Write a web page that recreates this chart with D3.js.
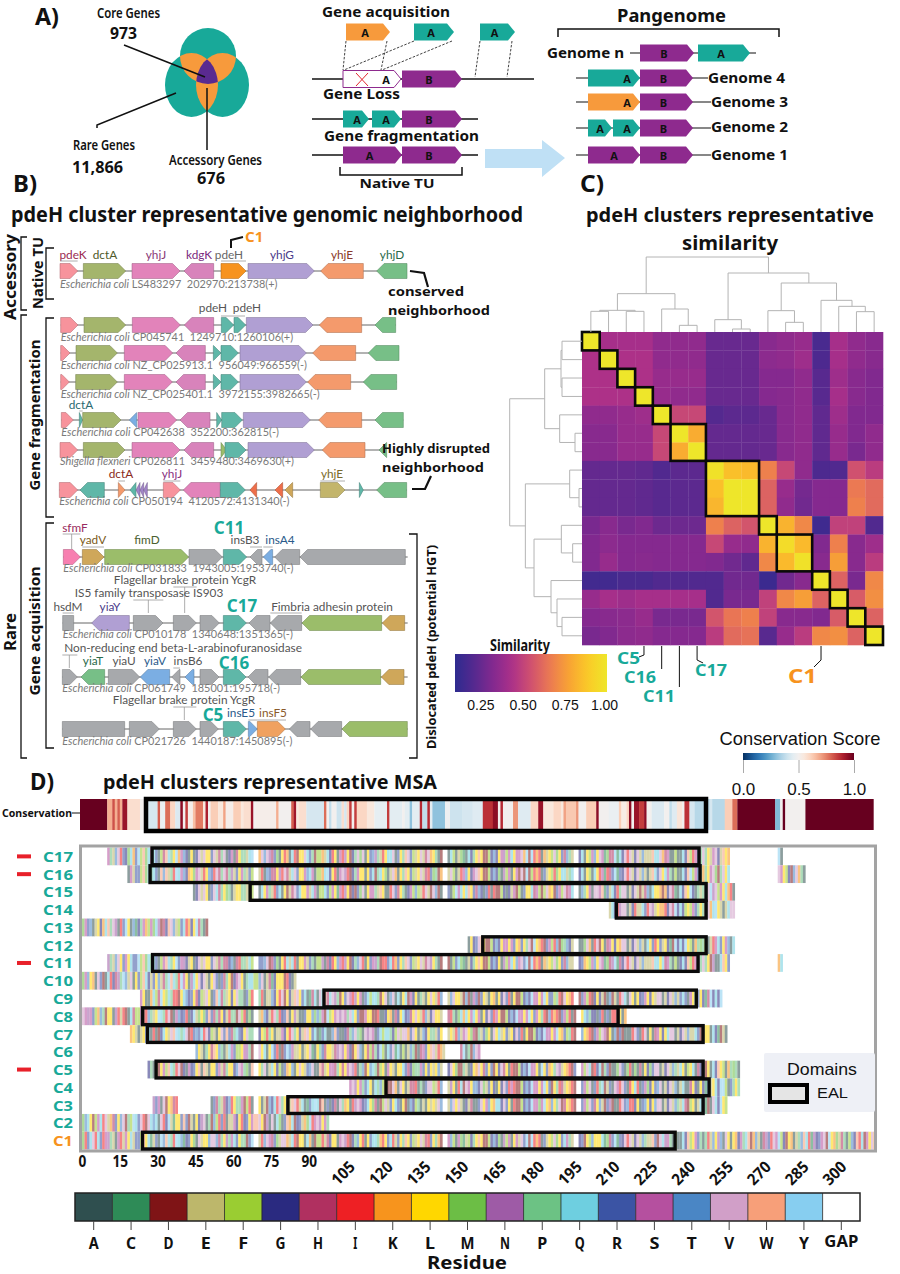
<!DOCTYPE html>
<html><head><meta charset="utf-8">
<script src="https://cdn.jsdelivr.net/npm/d3@7/dist/d3.min.js"></script>
<style>html,body{margin:0;padding:0;background:#fff}svg{display:block}</style>
</head><body><svg id="c" width="900" height="1274" xmlns="http://www.w3.org/2000/svg"></svg>
<script>
// ---------- Panel D data ----------
const msaClusters = ["C17","C16","C15","C14","C13","C12","C11","C10","C9","C8","C7","C6","C5","C4","C3","C2","C1"];
const msaMarked = ["C17","C16","C11","C5"];
const residues = ["A","C","D","E","F","G","H","I","K","L","M","N","P","Q","R","S","T","V","W","Y","GAP"];
const residueColors = ["#2f4f4f","#2e8b57","#7f1416","#bdb76b","#9acd32","#2a2a80","#b03060","#ee2024","#f7941d","#ffd700","#6cbe45","#9e5ba6","#6cc284","#6ecfe0","#3b54a4","#b5509f","#4a86c5","#d19fc8","#f79f79","#87cef0","#ffffff"];
const xTicks = [0,15,30,45,60,75,90,105,120,135,150,165,180,195,210,225,240,255,270,285,300];
const msaC17 = [[10,"SPETVIRGMQ KRYFWMQSQR AFHWQPLYKS TGALAGVEVL LRVEHPVAGS AHLPPEQY-- KVTVNHRMAL IKAQIDLLVQ RPDFFKEQGI LASINLDGPV MVALRTNPEI LQQVARLPWV RFELVEHVKL PAD--AQFAE MCAQGPLWLD DFGTGLSNFS QLSSVKYDYI KIAKELFVML RHTPE--GQA LFSTLVSCMH HYCQGVIVEG VETEEEWQQV KHSAAFAAQG WFISRPVPLE SVGEWLK"],[276,"YA"]];
const msaC16 = [[18,"AS ERRFWMQCQR AWTWEPIYQS TGKLMSVEIL TRIVHPVHPN ERLSPERF-- EIATRHHLNI VHEQVRLLST QSAFFKQYGL IASVNIDGPS LLALRQDPQL MAEVKALPWL RFELVEHIRM PDK--EVFAE ISTLGSVWLD DFGTGMANFS ALSDVDYDFI KIARELFIML QQEPQ--GQA LFAQLISCIH RYCRGVIVEG VETEAEWQRV LQSPAFAAQG WYFSRPKPLS VMDPVLQ"],[276,"VSLFGDTVKPA"]];
const msaC15 = [[44,"AGVEVL ARVQHPLMPA ELLPPEEF-- AQLSPEIRQA LDEHVRQLLS EQSAFFQRFS LCSINLDGDR MVALSSPEWL AAIVRHLPAG SFTFEIVEDV TDA--RAFYS QLQWLRHTGA RIAIDDFGAG ESDFARLLQH SFDFVKLDRS FVHSQ--ATP LSAVVSWCRE QGIPVVAEGV EDEHTAQLLK DKGVHCAQGW LYGAPEPAVY NVFSLQKIA"]];
const msaC14 = [[209,"E QGINVVAEGI EEQRIVNELK KIGVHYGQGF LFSRPLPDVK QYLEAEQVV"]];
const msaC13 = [[0,"MSRTAELGKQ WPVNAIRYLA TCGPSKFSMQ NDHGWVTEFR QIKGLYHPAD"]];
const msaC12 = [[153,"ALGRVWL DDFGTGLSSL SRLKRLPVDY LKIDRSFITD MPTGE--AAM VKAIVDLAHS LGLKVVAEGV ETEAQLRILR ELGCDYGQGY LFAKPMPLAE ISQRLSTAQ"]];
const msaC11 = [[10,"NPETVLRSLQ RRYFWMQPQR AFSWQPLYRS NGELAGVEVL LRVEHPHHGT AHIPPEQF-- RRTVDHRMAL IQEQIALLSE RPAFFNAHGI LTSINLDGPT VIALRSNPDI IRQIKRLPWV RFELVEHVNL PAD--DAFRQ MCAEGPLWLD DFGTGLANFS QLTSVRYDYI KIAKELFVML RHTEE--GRK LFSTLVSCMH NYCHGVIVEG VETEEEWQQL QHSPAFAGQG WFISRPVPLD NAAQWLR"],[276,"KQ"]];
const msaC10 = [[0,"MSTLKAVRDA QIGHNPYTEV ALRFWQGERL TEHPYWQPIY SLANQLVGVE ALVRARHPLD GSVLAPQQFF TVAEHCGLLL DIGAE"]];
const msaC9 = [[23,"SLAAKQF HYLFQPIIDL QTGRLHGFEV LARWQHPELG LVPPARFI-- PIAEETGLIV DLGEWVLRQA CHQAVQWHQV NPDLRVSINL SARQFQQPDL VATVAQALQD SGLAPEALVL EIT--ETVLL EDTDASRDRL EALKALGVRI ALDDFGTGYS SLSYLRRFPI DVLKI--DRS FIDGLGEDAT DEAIVQAVLA LGRSLGLEVV AEGVETERQR ASLQRLGCHY GQGY"]];
const msaC8 = [[0,"VSNSRFKTPD LLANIEIDAQ HFFSDITPEL YQPIVDASTG RIAGYEMLMR WRHPHLGEIP PDVFIAMA-- EKTGEIVPIG RWALNEAARL LTMTPSDYFL SVNVSPVQLR DDSLLDDIAA GLKAHGLQGR HLVLEITEGV LLE--HIPAM QKQLSQLSAL GVRISLDDFG TGYSSLSYLR SLPIDTIKID RSFIAD--LQ TPGGARIARA IIDLAK"]];
const msaC7 = [[19,"K LEAELRQAIA DGQLEVWYQP QVDIRTRQIV GFEALVRWRH PQRGLVPP-- GLFIPLAEES GLIVPLGEWV LRQACRQAAT WRAAGHPTVP MAVNVSARQF QQPGFVEVVK RVLAETGLPP ERL--ELEIT ESVLMHDPER MLAVLQELRE LGVRIALDDF GTGYSSLSYL KRFPID--TL KIDRSFVSDL ATDRDAAAIV RAIVALAHSL GLQVVAEGVE TEEQRDFLLA QGCDEA"]];
const msaC6 = [[45,"TLEAP LHWLTPAEQS RFFLSNPD-- VLQALYRIAD RYTSEELAEL VCALPRHLLE HNVNLSGDLV TALHFHPGYF AQRVCQAFAE TPDAHSRLWV EIKE"],[150,"HYAPDTVS"]];
const msaC5 = [[26,"GPAL DLSFWQPIVD GASGRLWAWE ALLRSEHPLL GTVSPMAW-- LPVAEQLGFA RKLTALVLER TVAAWHELSS HPLHLSVNIA PTDLTQPDFL ASLEALLQRH GMPPSRLRLE LTE--GVLMD DPEAGLKVLH RLRDLGVHLA IDDFGTGYSS LAYLRKLPVN ELKIDR--SF VQDIGQDPRD AAMVRAMIAM AHALGMRVVA EGVETPEQLA FLQAHGCDLA QGWLFAKPMP A"]];
const msaC4 = [[106,"SVNL SPRQLAQPTF LDDVKAVLAE HHIAPARVVF EIT--ENLAI QDVSLTTGVM ERLGALGVRI SIDDFGTGYS SLSYLRDLPI HELKID--RS FVARIPQDER AVSIVRAILQ IARSMGLRTV AEGVETAEQA AHLGALGCTE LQGYYFARPL P"]];
const msaC3 = [[28,"NRSAVDLKHI"],[51,"ARHPEHGTI LPPSDFIA-- LAEDTGQIVP LGEWVIEQAC RQYQDWARAG HAVPKLAINV SGRQLMHADF VERLQRALDA TGFPAEALEL EVT--ETVLV EAGEHAARVL STLKQQGVRL AIDDFGTGYS SMSYLKTLPV DHLKID--RS FVRHLTEDRN DAAIVRTIIG LARTLGLTVV AEGVETPEQH DFLAEQGCDA VQGYLF"]];
const msaC2 = [[0,"MTQLDFSQIV EKHRLTVDPF YQRVIDVQTQ AVIGYECLLR WRDEALGNVA PDTFIRIAEE SGLIGRLSWW VLDNAVAQMA RWKQDGREKM YISVNLSP"]];
const msaC1 = [[0,"MIRQVIQRIS NPEASIESLQ ERRFWLQCER AYTWQPIYQT CGRLMAVELL TVVTHPLNPS QRLPPDRY-- EITVSHRMEV VKEQIDLLAQ KADFFIEHGL LASVNIDGPT LIALRQQPKI LRQIERLPWL RFELVEHIRL PKD--STFAS MCEFGPLWLD DFGTGMANFS ALSEVRYDYI KIARELFVML RQSPE--GRD LFTLLLQCMH RYCRGVIVEG VETPEEWRDV QNSPAFAAQG WFLSRPAPIE TLNTAVLALK GSPQWDKTEA HNRIVSYFGD LKAEPTWQIC NGRSVDYLKM EHPAFTGWIQ DSLVK"]];
const msaRows = [msaC17,msaC16,msaC15,msaC14,msaC13,msaC12,msaC11,msaC10,msaC9,msaC8,msaC7,msaC6,msaC5,msaC4,msaC3,msaC2,msaC1];
const ealClusters = ["C17","C16","C15","C14","C12","C11","C9","C8","C7","C5","C4","C3","C1"];
const ealStart = [27.8,27,66.7,212,159,28,96,24,26,29.4,120.6,81.7,24];
const ealEnd = [244.8,245.2,247.6,247.6,247.6,244.4,243.7,212.7,246.4,246.4,248.8,246.4,235.3];
// conservation score: [score, number of consecutive residues]
const conservationRuns = [[1,10],[.68,2],[.82,1],[.68,1],[.8,1],[.68,1],[.93,2],[.58,5],[.5,2],[.42,5],[.8,1],[.47,2],[.78,2],[.6,2],[.43,2],[.95,1],[.5,1],[.85,1],[.52,2],[.65,1],[.76,3],[.55,1],[.9,1],[.5,1],[.62,3],[.55,2],[.7,1],[.52,3],[.62,3],[.55,1],[.58,3],[.93,1],[.5,1],[.52,8],[.68,1],[.5,5],[.8,1],[.92,1],[.55,1],[.58,3],[.42,7],[.78,1],[.5,1],[.38,1],[.5,2],[.4,2],[.58,1],[.42,1],[.6,1],[.85,1],[.5,1],[.85,1],[.6,4],[.55,3],[.46,5],[.85,1],[.45,5],[.5,1],[.45,2],[.3,1],[.45,3],[.88,1],[.38,2],[.88,1],[.45,1],[.3,5],[.48,2],[.4,5],[.42,4],[.44,4],[.87,4],[.95,2],[.5,1],[.88,1],[.5,4],[.72,2],[.44,5],[.6,3],[.93,2],[.55,4],[.6,3],[.55,1],[.7,1],[.63,4],[.72,1],[.5,3],[.62,4],[.95,1],[.5,4],[.47,4],[.62,1],[.53,2],[.6,1],[.95,1],[.5,1],[.93,2],[.85,2],[.95,1],[.5,2],[.43,5],[.5,2],[.38,1],[.44,2],[.56,2],[.5,1],[.87,2],[.42,2],[.36,6],[.42,1],[.36,5],[.62,3],[.78,2],[1,15],[.28,2],[.5,1],[1,1],[.5,8],[1,27]];
// ---------- Panel C data ----------
const simRamp = ["#2d2b8f","#55298f","#83298f","#ac3089","#d0516f","#ec7a52","#f8a334","#fbca27","#eee62a"];
const heatRows = [
[1,.42,.42,.42,.36,.36,.36,.26,.26,.26,.34,.36,.38,.18,.42,.36,.34],
[.44,1,.44,.44,.36,.36,.36,.26,.26,.26,.35,.36,.4,.19,.42,.36,.34],
[.44,.44,1,.44,.38,.38,.38,.26,.26,.26,.33,.33,.36,.22,.40,.34,.32],
[.44,.44,.44,1,.38,.36,.36,.26,.26,.26,.33,.34,.36,.22,.42,.34,.32],
[.36,.36,.38,.40,1,.52,.52,.21,.23,.23,.26,.34,.36,.24,.40,.32,.32],
[.34,.34,.38,.38,.52,1,.8,.25,.25,.25,.26,.34,.36,.24,.38,.32,.36],
[.34,.34,.38,.38,.52,.8,1,.25,.25,.25,.26,.34,.36,.24,.38,.3,.36],
[.25,.25,.25,.24,.2,.23,.23,.98,.86,.84,.68,.52,.36,.19,.2,.55,.48],
[.25,.25,.25,.24,.22,.23,.23,.86,1,1,.6,.38,.29,.33,.33,.66,.62],
[.25,.25,.25,.24,.22,.23,.23,.83,1,1,.6,.36,.28,.33,.33,.68,.62],
[.3,.34,.3,.32,.27,.27,.27,.68,.6,.56,1,.82,.7,.15,.5,.5,.2],
[.32,.35,.33,.33,.33,.33,.33,.52,.38,.36,.82,.96,.84,.32,.68,.34,.4],
[.32,.38,.33,.34,.33,.33,.33,.32,.28,.24,.7,.84,.98,.34,.76,.34,.48],
[.16,.16,.18,.18,.2,.2,.2,.2,.28,.28,.14,.28,.34,1,.6,.3,.7],
[.38,.42,.4,.42,.42,.42,.42,.2,.3,.3,.5,.7,.76,.6,1,.58,.72],
[.33,.34,.35,.38,.3,.3,.3,.56,.65,.68,.5,.34,.34,.32,.58,1,.6],
[.3,.32,.35,.36,.33,.33,.33,.48,.62,.64,.22,.38,.48,.7,.72,.6,1]];
// similarity blocks on the diagonal: [first, last] (0-based leaf order)
const heatBlocks = [[0,0],[1,1],[2,2],[3,3],[4,4],[5,6],[7,9],[10,10],[11,12],[13,13],[14,14],[15,15],[16,16]];
// dendrogram merges: [childA, childB, top distance, left distance]; a child >=0 is a leaf, <0 is merge -(i+1)
const dendroMerges = [[0,1,62,60],[2,3,62,60],[-1,-2,65,63],[5,6,20,21],[4,-4,69,67],[-3,-5,115,112],[8,9,9,9],[7,-7,37,37],[11,12,29,28],[10,-9,64,62],[15,16,61,60],[14,-11,77,75],[13,-12,95,93],[-10,-13,147,144],[-8,-14,177,170],[-6,-15,225,217]];
const simTicks = [.25,.5,.75,1];
const consTicks = [0,.5,1];
// ---------- Panel B data (gene positions on a position axis, strand, colour class) ----------
const geneColors = {pk:"#f7939c",ol:"#a4b56c",pi:"#e283ba",pj:"#d883bb",or:"#f7931e",la:"#b09fd3",sa:"#f49a6c",gn:"#77bf87",te:"#5fb7a8",bl:"#7baee3",li:"#9bbd6a",gy:"#a7a9ac",ta:"#cfa75a",hp:"#f77fb0",kh:"#c3b56b",rd:"#ee6e4a",pu:"#a184c8",io:"#f0a15f"};
const geneR1 = [[180,233,1,"pk"],[250,377,1,"ol"],[396,540,1,"pi"],[552,641,-1,"pj"],[663,738,1,"or"],[744,943,1,"la"],[962,1090,-1,"sa"],[1130,1221,-1,"gn"]];
const geneR2 = [[182,234,1,"pk"],[252,377,1,"ol"],[397,541,1,"pi"],[553,641,-1,"pj"],[664,701,1,"te"],[702,737,1,"te"],[739,939,1,"la"],[958,1085,-1,"sa"],[1125,1187,-1,"gn"]];
const geneR3 = [[182,210,1,"pk"],[228,352,1,"ol"],[373,518,1,"pi"],[528,616,-1,"pj"],[640,663,1,"te"],[663,715,1,"te"],[720,919,1,"la"],[938,1067,-1,"sa"],[1105,1197,-1,"gn"]];
const geneR4 = [[182,208,1,"pk"],[227,352,1,"ol"],[373,517,1,"pi"],[528,616,-1,"pj"],[640,663,1,"te"],[663,715,1,"te"],[720,919,1,"la"],[923,1052,-1,"sa"],[1090,1190,-1,"gn"]];
const geneR5 = [[184,220,1,"pk"],[238,248,1,"te"],[248,363,1,"ol"],[388,410,-1,"bl"],[414,530,1,"pi"],[540,630,-1,"pj"],[650,665,1,"te"],[665,727,1,"te"],[730,931,1,"la"],[956,1085,-1,"sa"],[1125,1210,-1,"gn"]];
const geneR6 = [[180,233,1,"pk"],[250,375,1,"ol"],[396,540,1,"pi"],[552,641,-1,"pj"],[663,680,1,"li"],[675,738,1,"te"],[744,943,1,"la"],[967,1095,-1,"sa"],[1137,1160,-1,"gn"]];
const geneR7 = [[178,233,1,"pk"],[240,313,-1,"te"],[355,375,1,"sa"],[390,408,-1,"te"],[408,420,-1,"pu"],[420,431,-1,"pu"],[431,442,-1,"pu"],[490,541,1,"pk"],[550,661,-1,"pi"],[661,736,1,"te"],[750,770,-1,"rd"],[825,848,-1,"rd"],[855,878,-1,"ta"],[961,1035,1,"kh"],[1078,1090,1,"te"],[1130,1220,-1,"gn"]];
const geneR8 = [[190,241,1,"hp"],[247,312,1,"ta"],[314,566,1,"li"],[567,667,1,"gy"],[670,740,1,"te"],[750,786,-1,"gy"],[790,818,-1,"bl"],[824,899,-1,"gy"],[900,1216,-1,"gy"]];
const geneR9 = [[188,221,0,"gy"],[275,388,-1,"la"],[400,489,1,"gy"],[520,589,1,"gy"],[600,658,1,"gy"],[670,739,1,"te"],[747,810,-1,"gy"],[811,905,-1,"gy"],[906,1145,-1,"li"],[1147,1214,-1,"ta"]];
const geneR10 = [[187,232,1,"gy"],[243,314,-1,"gn"],[325,419,1,"gy"],[421,509,-1,"bl"],[515,540,-1,"gy"],[555,582,-1,"bl"],[600,657,1,"gy"],[670,738,1,"te"],[744,804,-1,"gy"],[806,902,-1,"gy"],[903,1142,-1,"li"],[1144,1212,-1,"ta"]];
const geneR11 = [[187,374,0,"gy"],[388,478,1,"gy"],[520,589,1,"gy"],[600,655,1,"gy"],[670,739,1,"te"],[745,772,1,"bl"],[772,856,1,"io"],[868,930,-1,"gy"],[932,1025,-1,"gy"],[1026,1222,-1,"li"]];
const geneTracks = [geneR1,geneR2,geneR3,geneR4,geneR5,geneR6,geneR7,geneR8,geneR9,geneR10,geneR11];
const geneSpecies = ["Escherichia coli","Escherichia coli","Escherichia coli","Escherichia coli","Escherichia coli","Shigella flexneri","Escherichia coli","Escherichia coli","Escherichia coli","Escherichia coli","Escherichia coli"];
const geneAccessions = ["LS483297  202970:213738(+)","CP045741  1249710:1260106(+)","NZ_CP025913.1  956049:966559(-)","NZ_CP025401.1  3972155:3982665(-)","CP042638  352200:362815(-)","CP026811  3459480:3469630(+)","CP050194  4120572:4131340(-)","CP031833  1943005:1953740(-)","CP010178  1340648:1351365(-)","CP061749  185001:195718(-)","CP021726  1440187:1450895(-)"];

// ---------- helpers ----------
const svg = d3.select("#c");
const SANS = "'Noto Sans','Open Sans',sans-serif", LATO = "Lato,'Open Sans',sans-serif", ARIAL = "'Liberation Sans',Arial,sans-serif";
function T(x,y,s,o={}){ const g=o.parent||svg;
  const t=g.append("text").attr("x",x).attr("y",y).text(s).attr("font-family",o.font||SANS).attr("font-size",o.size||12)
    .attr("font-weight",o.weight||"bold").attr("fill",o.fill||"#111").attr("text-anchor",o.anchor||"start").style("white-space","pre");
  if(o.w){t.attr("textLength",o.w).attr("lengthAdjust","spacingAndGlyphs");}
  if(o.rot){t.attr("transform",`rotate(${o.rot} ${x} ${y})`);}
  return t;}
function L(pts,o={}){ return (o.parent||svg).append("path").attr("d",d3.line()(pts)).attr("fill","none").attr("stroke",o.stroke||"#111").attr("stroke-width",o.sw||1.5).attr("stroke-dasharray",o.dash||null);}
function arrowPath(x0,x1,cy,h,dir,head){ const hh=h/2;
  if(dir===0) return `M${x0},${cy-hh}H${x1}V${cy+hh}H${x0}Z`;
  const w=x1-x0, a=Math.min(head,w);
  if(dir>0) return `M${x0},${cy-hh}H${x1-a}L${x1},${cy}L${x1-a},${cy+hh}H${x0}Z`;
  return `M${x1},${cy-hh}H${x0+a}L${x0},${cy}L${x0+a},${cy+hh}H${x1}Z`;}

// ---------- Panel A ----------
const aTeal="#18a999", aOrange="#f79a3c", aPurple="#8e2a8e", aVenn="#5a2a90";
const defs=svg.append("defs");
const vennE=[[208,56,28,28],[191.5,85,26.5,32],[222.5,85,26.5,32]];
const E=(sel,d,fill)=>sel.append("ellipse").attr("cx",d[0]).attr("cy",d[1]).attr("rx",d[2]).attr("ry",d[3]).attr("fill",fill||null);
vennE.forEach((d,i)=>{E(defs.append("clipPath").attr("id","ve"+i),d);});
vennE.forEach(d=>E(svg,d,aTeal));
[[0,1],[0,2],[1,2]].forEach(p=>{E(svg.append("g").attr("clip-path",`url(#ve${p[0]})`),vennE[p[1]],aOrange);});
E(svg.append("g").attr("clip-path","url(#ve0)").append("g").attr("clip-path","url(#ve1)"),vennE[2],aVenn);
T(35,25,"A)",{size:23,w:24});
T(97,18,"Core Genes",{size:15,w:63,weight:600}); T(110,39,"973",{size:15.5,w:27});
L([[124,45],[205,77]]);
T(73,150,"Rare Genes",{size:15,w:62,weight:600}); T(72,173,"11,866",{size:15.5,w:51});
L([[97,128],[97,125],[176,93]]);
T(169,165,"Accessory Genes",{size:15,w:93,weight:600}); T(197,184,"676",{size:15.5,w:28});
L([[207,88],[207,150]]);
function miniGene(x0,x1,cy,fill,label,lx,o={}){ svg.append("path").attr("d",arrowPath(x0,x1,cy,o.h||17,1,7)).attr("fill",fill).attr("stroke",o.stroke||"none").attr("stroke-width",o.stroke?1:0);
  T(lx===undefined?(x0+x1)/2-3:lx,cy+4.5,label,{size:11,anchor:"middle",fill:"#111",font:SANS});}
T(322,17,"Gene acquisition",{size:15,w:128});
miniGene(346,390,32,aOrange,"A"); miniGene(414,454,32,aTeal,"A"); miniGene(480,515,32,aTeal,"A");
[[[346,41],[343,70]],[[387,41],[381,70]],[[414,41],[344,70]],[[452,41],[382,70]],[[480,41],[475,77]],[[512,41],[507,77]]].forEach(p=>L(p,{sw:.8,dash:"2.5 1.5"}));
L([[312,79],[534,79]]);
miniGene(343,401,79,"#fff","A",386,{stroke:aPurple}); miniGene(402,462,79,aPurple,"B");
L([[356,73],[368,86]],{stroke:"#e3262e",sw:1}); L([[368,73],[356,86]],{stroke:"#e3262e",sw:1});
T(323,99,"Gene Loss",{size:15,w:77});
L([[312,119],[478,119]]);
miniGene(343,369,119,aTeal,"A",357); miniGene(372,401,119,aTeal,"A",386); miniGene(402,462,119,aPurple,"B");
T(324,141,"Gene fragmentation",{size:15,w:155});
L([[312,155],[478,155]]);
miniGene(343,402,155,aPurple,"A"); miniGene(402,462,155,aPurple,"B");
L([[340,167],[340,175],[462,175],[462,167]],{sw:1.5});
T(397,188,"Native TU",{size:13,anchor:"middle",w:75});
svg.append("path").attr("d","M485,149H542V140L565,158L542,177V168H485Z").attr("fill","#bfe0f5");
T(617,22,"Pangenome",{size:17,w:109});
L([[558,37],[558,29],[779,29],[779,37]],{sw:1.5});
T(547,58,"Genome n",{size:14,w:77}); L([[630,53],[756,53]],{sw:1.2}); miniGene(640,694,53,aPurple,"B"); miniGene(698,750,53,aTeal,"A");
T(708,83,"Genome 4",{size:14,w:77}); L([[576,78],[708,78]],{sw:1.2}); miniGene(588,640,78,aTeal,"A",627); miniGene(640,693,78,aPurple,"B");
T(711,107,"Genome 3",{size:14,w:77}); L([[576,102],[711,102]],{sw:1.2}); miniGene(588,640,102,aOrange,"A",627); miniGene(640,693,102,aPurple,"B");
T(711,132,"Genome 2",{size:14,w:77}); L([[576,128],[711,128]],{sw:1.2}); miniGene(588,612,128,aTeal,"A",600); miniGene(613,640,128,aTeal,"A",627); miniGene(640,693,128,aPurple,"B");
T(711,160,"Genome 1",{size:14,w:77}); L([[576,155],[711,155]],{sw:1.2}); miniGene(588,640,155,aPurple,"A",614); miniGene(640,693,155,aPurple,"B");

// ---------- Panel B ----------
T(13,192,"B)",{size:23,w:24});
T(11,222,"pdeH cluster representative genomic neighborhood",{size:20.5,w:512});
const geneX=d3.scaleLinear().domain([0,1350]).range([0,450]);
const trackY=d3.scaleOrdinal().domain(d3.range(11)).range([271,325,353,382,420,450,490,557,623,677,729]);
const labelY=[288,341,369,398,436,465,505,572,638,692,745];
geneTracks.forEach((tr,i)=>{ const g=svg.append("g"); const cy=trackY(i);
  const last=i>=7?1223:d3.max(tr,d=>d[1]);
  g.append("line").attr("x1",geneX(tr[0][0])).attr("x2",geneX(last)).attr("y1",cy).attr("y2",cy).attr("stroke","#555").attr("stroke-width",.9);
  g.selectAll("path").data(tr).join("path").attr("d",d=>arrowPath(geneX(d[0]),geneX(d[1]),cy,15,d[2],7.5))
    .attr("fill",d=>geneColors[d[3]]).attr("stroke",d=>d3.color(geneColors[d[3]]).darker(.9)).attr("stroke-width",.55);
  const t=T(geneX(tr[0][0]),labelY[i],"",{size:10.9,weight:400,fill:"#7a7a7a",font:LATO});
  t.append("tspan").attr("font-style","italic").text(geneSpecies[i]); t.append("tspan").text(" "+geneAccessions[i]);
});
function GL(x,y,s,fill,o={}){T(x,y,s,Object.assign({size:11.8,weight:400,fill:fill||"#555",font:LATO,anchor:"middle"},o));}
function UL(z0,z1,y,stick){ L([[geneX(z0),y],[geneX(z1),y]],{stroke:"#999",sw:.8}); if(stick) L([[stick[0]/3,y],[stick[0]/3,stick[1]]],{stroke:"#999",sw:.8}); }
GL(73,259,"pdeK","#9a2a50"); UL(180,233,261); GL(105,259,"dctA","#4f5a2a"); GL(156,259,"yhjJ","#8a3a78"); GL(199,259,"kdgK","#7a2a80"); GL(229,259,"pdeH","#666"); UL(663,738,261); GL(282,259,"yhjG","#4a3a8a"); GL(342,259,"yhjE","#8a3a2a"); GL(392,259,"yhjD","#2a6a4a");
T(245,242,"C1",{size:15,fill:"#f7931e"}); L([[231,248],[231,240],[243,237]],{sw:2});
GL(213,312,"pdeH"); GL(247,312,"pdeH"); UL(663,735,316);
GL(81,409,"dctA","#2a6a70"); UL(238,248,411);
GL(121,478,"dctA","#8a2a20"); UL(355,375,481); GL(172,478,"yhjJ","#8a3080"); UL(490,541,481); GL(332,478,"yhjE","#7a6a2a"); UL(961,1035,481);
GL(75,532,"sfmF","#9a2a60"); UL(188,241,534,[215,549]);
GL(93,544,"yadV","#7a5a20"); UL(247,312,547); GL(147,544,"fimD","#4a6030"); GL(245,544,"insB3"); UL(750,786,547); GL(280,544,"insA4","#2a5a8a"); UL(790,818,547);
T(229,534,"C11",{size:17,fill:"#18a999",anchor:"middle"});
GL(185,584,"Flagellar brake protein YcgR"); UL(520,590,587,[554,613]);
GL(149,597,"IS5 family transposase IS903"); UL(400,490,600,[445,613]);
GL(68,611,"hsdM"); UL(188,221,613); GL(110,611,"yiaY","#4a3a8a"); GL(332,611,"Fimbria adhesin protein"); UL(811,905,613);
T(242,612,"C17",{size:17,fill:"#18a999",anchor:"middle"});
GL(183,652,"Non-reducing end beta-L-arabinofuranosidase"); UL(187,232,655,[208,668]);
GL(93,665,"yiaT","#2a6a4a"); GL(124,665,"yiaU"); GL(155,665,"yiaV","#2a5a8a"); GL(188,665,"insB6"); UL(520,540,668);
T(234,669,"C16",{size:17,fill:"#18a999",anchor:"middle"});
GL(184,704,"Flagellar brake protein YcgR"); UL(520,589,707,[553,720]);
T(213,721,"C5",{size:17,fill:"#18a999",anchor:"middle"});
GL(241,717,"insE5","#2a5a8a"); UL(745,772,720); GL(273,717,"insF5","#8a5a2a"); UL(772,858,720);
T(388,296,"conserved",{size:13,w:76}); T(388,315,"neighborhood",{size:13,w:102});
L([[410,271],[424,273],[428,287]],{sw:2.2});
T(382,453,"Highly disrupted",{size:13,w:108}); T(382,472,"neighborhood",{size:13,w:102});
L([[412,489],[425,489],[431,476]],{sw:2.2});
T(16,277,"Accessory",{size:16,rot:-90,anchor:"middle",w:86});
T(43,273,"Native TU",{size:15,rot:-90,anchor:"middle",w:72});
T(16,632,"Rare",{size:16,rot:-90,anchor:"middle",w:38});
T(40,415,"Gene fragmentation",{size:14,rot:-90,anchor:"middle",w:151});
T(40,631,"Gene acquisition",{size:14,rot:-90,anchor:"middle",w:129});
T(436,647,"Dislocated pdeH (potential HGT)",{size:12,rot:-90,anchor:"middle",w:204});
L([[27,237],[21,237],[21,310],[27,310]],{sw:1.3});
L([[54,248],[46,248],[46,299],[54,299]],{sw:1.3});
L([[27,315],[21,315],[21,758],[27,758]],{sw:1.3});
L([[54,318],[46,318],[46,517],[54,517]],{sw:1.3});
L([[54,523],[46,523],[46,748],[54,748]],{sw:1.3});
L([[409,534],[417,534],[417,758],[409,758]],{sw:1.3});

// ---------- Panel C ----------
T(580,192,"C)",{size:23,w:24});
T(730,222,"pdeH clusters representative",{size:19.5,anchor:"middle",w:288});
T(730,250,"similarity",{size:19.5,anchor:"middle",w:96});
const hN=heatRows.length, leaves=d3.range(hN);
const hx=d3.scaleBand().domain(leaves).range([582,883]);
const hy=d3.scaleBand().domain(leaves).range([332,645]);
const simNorm=d3.scaleLinear().domain([.1,1]).range([0,1]);
const simInterp=d3.piecewise(d3.interpolateRgb,simRamp);
const simColor=v=>simInterp(Math.max(0,Math.min(1,simNorm(v))));
const heatCells=heatRows.flatMap((r,i)=>r.map((v,j)=>({i,j,v})));
svg.append("g").selectAll("rect").data(heatCells).join("rect").attr("x",d=>hx(d.j)).attr("y",d=>hy(d.i)).attr("width",hx.bandwidth()+.3).attr("height",hy.bandwidth()+.3).attr("fill",d=>simColor(d.v));
svg.append("g").selectAll("rect").data(heatBlocks).join("rect").attr("x",d=>hx(d[0])).attr("y",d=>hy(d[0])).attr("width",d=>hx(d[1])-hx(d[0])+hx.bandwidth()).attr("height",d=>hy(d[1])-hy(d[0])+hy.bandwidth()).attr("fill","none").attr("stroke","#0a0a0a").attr("stroke-width",2.6);
// dendrograms
const topD=d3.scaleLinear().domain([0,225]).range([332,257]);
const leftD=d3.scaleLinear().domain([0,217]).range([582,509.7]);
function pos(c,band,nodes){ return c>=0?{p:band(c)+band.bandwidth()/2,d:0}:nodes[-c-1]; }
const topNodes=[],leftNodes=[];
dendroMerges.forEach(m=>{
  const a=pos(m[0],hx,topNodes),b=pos(m[1],hx,topNodes);
  L([[a.p,topD(a.d)],[a.p,topD(m[2])],[b.p,topD(m[2])],[b.p,topD(b.d)]],{stroke:"#b4b4b4",sw:1});
  topNodes.push({p:(a.p+b.p)/2,d:m[2]});
  const c=pos(m[0],hy,leftNodes),e=pos(m[1],hy,leftNodes);
  L([[leftD(c.d),c.p],[leftD(m[3]),c.p],[leftD(m[3]),e.p],[leftD(e.d),e.p]],{stroke:"#b4b4b4",sw:1});
  leftNodes.push({p:(c.p+e.p)/2,d:m[3]});
});
// similarity legend
T(490,651,"Similarity",{size:16,w:60});
const simGrad=defs.append("linearGradient").attr("id","simG");
d3.range(0,1.001,.05).forEach(t=>simGrad.append("stop").attr("offset",t).attr("stop-color",simColor(.1+.9*t)));
const simX=d3.scaleLinear().domain([.1,1]).range([455,607]);
svg.append("rect").attr("x",simX(.1)).attr("width",simX(1)-simX(.1)).attr("y",654).attr("height",38).attr("fill","url(#simG)");
const simAxis=svg.append("g").attr("transform","translate(0,692)").call(d3.axisBottom(simX).tickValues(simTicks).tickSize(0).tickFormat(d3.format(".2f")));
simAxis.select(".domain").remove();
simAxis.selectAll("text").attr("y",18).attr("dy",0).attr("font-family",ARIAL).attr("font-size",14).attr("fill","#111");
simAxis.selectAll("g.tick").filter(d=>d===1).select("text").attr("dx",-3);
// similarity leaders
const hc=i=>hx(i)+hx.bandwidth()/2;
L([[hc(3),646],[hc(3),655],[hc(3)-5,657]],{sw:1});
L([[hc(4),646],[hc(4),669]],{sw:1}); L([[hc(5),646],[hc(5),687]],{sw:1});
L([[hc(6),646],[hc(6),660],[hc(6)+6,663]],{sw:1});
L([[hc(13),646],[hc(13),660],[hc(13)-7,667]],{sw:1});
T(617,664,"C5",{size:15.5,fill:"#18a999",w:23}); T(624,683,"C16",{size:15.5,fill:"#18a999",w:32});
T(643,702,"C11",{size:15.5,fill:"#18a999",w:32}); T(695,676,"C17",{size:15.5,fill:"#18a999",w:32});
T(788,683,"C1",{size:20,fill:"#f7931e",w:29});

// ---------- Panel D ----------
T(30,790,"D)",{size:23,w:24});
T(103,789,"pdeH clusters representative MSA",{size:19,w:334});
T(2,817,"Conservation",{size:10,w:70}); L([[72,813],[80,813]],{sw:1});
const msaX=d3.scaleLinear().domain([0,315]).range([82,876]);
const msaY=d3.scaleBand().domain(msaClusters).range([847.5,1149.5]);
// conservation strip
const consCells=[]; { let r=0; conservationRuns.forEach(([v,n])=>{ consCells.push({r,n,v}); r+=n; }); }
const consColor=v=>d3.interpolateRdBu(1-v);
svg.append("g").selectAll("rect").data(consCells).join("rect").attr("x",d=>Math.min(msaX(d.r),875)).attr("y",799).attr("width",d=>Math.max(0,Math.min(msaX(d.r+d.n),875)-msaX(d.r))+.2).attr("height",31).attr("fill",d=>consColor(d.v));
svg.append("rect").attr("x",80).attr("y",799).attr("width",2).attr("height",31).attr("fill",consColor(1));
svg.append("rect").attr("x",146).attr("y",799).attr("width",560).attr("height",32).attr("fill","none").attr("stroke","#000").attr("stroke-width",4.5);
// conservation legend
T(800,745,"Conservation Score",{size:19,font:ARIAL,weight:400,anchor:"middle",w:161});
const consGrad=defs.append("linearGradient").attr("id","consG");
d3.range(0,1.001,.05).forEach(t=>consGrad.append("stop").attr("offset",t).attr("stop-color",consColor(t)));
const consX=d3.scaleLinear().domain([0,1]).range([743,854]);
svg.append("rect").attr("x",743).attr("width",111).attr("y",753).attr("height",7).attr("fill","url(#consG)");
const consAxis=svg.append("g").attr("transform","translate(0,760)").call(d3.axisBottom(consX).tickValues(consTicks).tickSize(13).tickFormat(d3.format(".1f")));
consAxis.select(".domain").remove(); consAxis.selectAll("line").attr("stroke","#aaa");
consAxis.selectAll("text").attr("y",35).attr("dy",0).attr("font-family",ARIAL).attr("font-size",17).attr("fill","#111");
// MSA cells
const resColor=d3.scaleOrdinal().domain(residues).range(residueColors);
const msaCells=[];
msaRows.forEach((segs,i)=>segs.forEach(([s,q])=>{ const seq=q.replace(/ /g,""); for(let k=0;k<seq.length;k++){ const a=seq[k]; if(a!=="-") msaCells.push({c:msaClusters[i],r:s+k,a}); } }));
svg.append("g").attr("opacity",.55).selectAll("rect").data(msaCells).join("rect").attr("x",d=>msaX(d.r)).attr("y",d=>msaY(d.c)).attr("width",msaX(1)-msaX(0)+.2).attr("height",msaY.bandwidth()).attr("fill",d=>resColor(d.a));
svg.append("rect").attr("x",80.5).attr("y",846).attr("width",795).attr("height",305).attr("fill","none").attr("stroke","#a3a3a3").attr("stroke-width",3);
svg.append("g").selectAll("rect").data(ealClusters).join("rect").attr("x",(d,i)=>msaX(ealStart[i])).attr("y",d=>msaY(d)+.5).attr("width",(d,i)=>msaX(ealEnd[i])-msaX(ealStart[i])).attr("height",msaY.bandwidth()-1).attr("fill","none").attr("stroke","#0a0a0a").attr("stroke-width",3.4);
svg.append("g").selectAll("text").data(msaClusters).join("text").attr("x",73).attr("y",d=>msaY(d)+msaY.bandwidth()/2+5.5).attr("text-anchor","end").attr("font-family",SANS).attr("font-weight","bold").attr("font-size",15).attr("fill",d=>d==="C1"?"#f7931e":"#18a999").attr("textLength",d=>d.length*10).attr("lengthAdjust","spacingAndGlyphs").text(d=>d);
svg.append("g").selectAll("rect").data(msaMarked).join("rect").attr("x",17).attr("width",14).attr("y",d=>msaY(d)+msaY.bandwidth()/2-2).attr("height",4).attr("fill","#e8202a");
// x axis
const xAxis=svg.append("g").attr("transform","translate(0,1151)").call(d3.axisBottom(msaX).tickValues(xTicks).tickSize(0));
xAxis.select(".domain").remove();
xAxis.selectAll("g.tick").each(function(d){ const t=d3.select(this).select("text").attr("font-family",SANS).attr("font-weight","bold").attr("font-size",16).attr("fill","#111").attr("lengthAdjust","spacingAndGlyphs").attr("textLength",String(d).length*(d<=90?7.8:8.6));
  if(d<=90){ t.attr("y",16).attr("dy",0); } else { t.attr("text-anchor","end").attr("y",0).attr("dy",0).attr("transform","translate(9,17) rotate(-45)"); } });
// domains legend
svg.append("rect").attr("x",764).attr("y",1053).attr("width",111).attr("height",59).attr("fill","#eef0f6").attr("rx",2);
T(822,1075,"Domains",{size:17,font:ARIAL,weight:400,anchor:"middle",w:70});
svg.append("rect").attr("x",770).attr("y",1085).attr("width",37).attr("height",17).attr("fill","#e5e5e5").attr("stroke","#000").attr("stroke-width",4);
T(817,1098,"EAL",{size:15,font:ARIAL,weight:400,w:31});
// residue legend
const resX=d3.scaleBand().domain(residues).range([75,860]);
svg.append("g").selectAll("rect").data(residues).join("rect").attr("x",d=>resX(d)).attr("y",1193).attr("width",resX.bandwidth()).attr("height",28).attr("fill",d=>resColor(d));
svg.append("rect").attr("x",75).attr("y",1193).attr("width",785).attr("height",28).attr("fill","none").attr("stroke","#222").attr("stroke-width",1.5);
svg.append("g").selectAll("line").data(residues.slice(1)).join("line").attr("x1",d=>resX(d)).attr("x2",d=>resX(d)).attr("y1",1193).attr("y2",1221).attr("stroke","#222").attr("stroke-width",.8);
const resAxis=svg.append("g").attr("transform","translate(0,1221)").call(d3.axisBottom(resX).tickSize(9));
resAxis.select(".domain").remove(); resAxis.selectAll("line").attr("stroke","#444");
resAxis.selectAll("g.tick").each(function(d){ const t=d3.select(this).select("text").attr("y",28).attr("dy",0).attr("font-family",SANS).attr("font-weight","bold").attr("font-size",16).attr("fill","#111").attr("lengthAdjust","spacingAndGlyphs");
  if(d==="GAP"){t.attr("textLength",34).attr("y",26);} else {t.attr("textLength",d==="I"?4:d==="M"||d==="W"?14:10);} });
T(467,1269,"Residue",{size:18,anchor:"middle",w:80});
</script></body></html>
